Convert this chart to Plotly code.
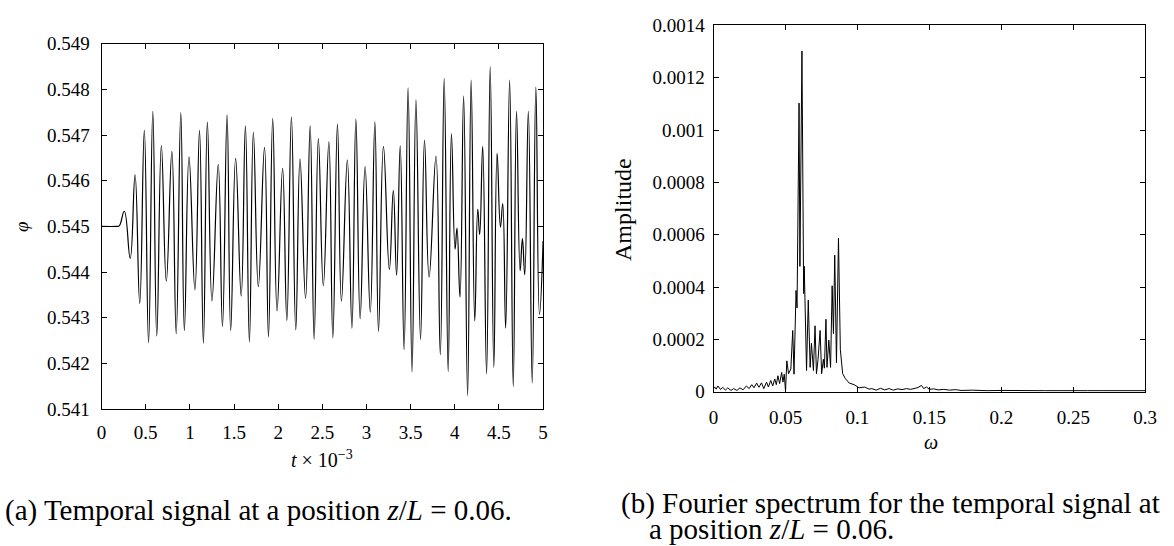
import plotly.graph_objects as go

# ---------------- data: temporal signal (extrema) ----------------
t_vals = [0.0, 0.17, 0.20, 0.257, 0.324, 0.379, 0.432, 0.484, 0.532, 0.580, 0.625, 0.677, 0.733,
          0.796, 0.845, 0.897, 0.9375, 0.990, 1.057, 1.109, 1.153, 1.198, 1.250, 1.321, 1.369,
          1.421, 1.462, 1.518, 1.581, 1.629, 1.674, 1.719, 1.775, 1.845, 1.890, 1.938, 1.987,
          2.050, 2.098, 2.150, 2.199, 2.247, 2.310, 2.362, 2.407, 2.455, 2.511, 2.574, 2.619,
          2.671, 2.716, 2.783, 2.835, 2.880, 2.928, 2.984, 3.043, 3.095, 3.136, 3.192, 3.259,
          3.304, 3.341, 3.382, 3.426, 3.471, 3.516, 3.560, 3.612, 3.657, 3.709, 3.787, 3.836,
          3.880, 3.925, 3.962, 4.003, 4.025, 4.059, 4.100, 4.145, 4.185, 4.226, 4.260, 4.282,
          4.316, 4.360, 4.401, 4.442, 4.479, 4.517, 4.543, 4.576, 4.621, 4.662, 4.699, 4.740,
          4.766, 4.792, 4.833, 4.877, 4.918, 4.959, 5.0]
phi_vals = [0.545, 0.545, 0.54501, 0.54533, 0.54430, 0.54613, 0.54331, 0.54710, 0.54245, 0.54752,
            0.54260, 0.54677, 0.54380, 0.54664, 0.54265, 0.54749, 0.54272, 0.54652, 0.54361,
            0.54710, 0.54244, 0.54728, 0.54337, 0.54635, 0.54281, 0.54744, 0.54272, 0.54649,
            0.54347, 0.54720, 0.54247, 0.54706, 0.54368, 0.54673, 0.54258, 0.54736, 0.54315,
            0.54627, 0.54294, 0.54740, 0.54273, 0.54647, 0.54342, 0.54720, 0.54253, 0.54692,
            0.54370, 0.54685, 0.54256, 0.54724, 0.54336, 0.54645, 0.54277, 0.54735, 0.54298,
            0.54631, 0.54312, 0.54729, 0.54270, 0.54675, 0.54406, 0.54579, 0.54393, 0.54677,
            0.54230, 0.54803, 0.54181, 0.54777, 0.54252, 0.54689, 0.54389, 0.54654, 0.54219,
            0.54824, 0.54182, 0.54703, 0.54450, 0.54496, 0.54345, 0.54785, 0.54129, 0.54820,
            0.54293, 0.54538, 0.54482, 0.54675, 0.54177, 0.54850, 0.54191, 0.54660, 0.54498,
            0.54550, 0.54277, 0.54820, 0.54149, 0.54752, 0.54403, 0.54473, 0.54394, 0.54752,
            0.54157, 0.54805, 0.54307, 0.54468]

# ---------------- data: Fourier spectrum ----------------
omega_vals = [0.0, 0.0007, 0.0018, 0.0030, 0.0048, 0.0064, 0.0082, 0.0098, 0.0121, 0.0139, 0.0162,
              0.0183, 0.0205, 0.0228, 0.0247, 0.0265, 0.0281, 0.0299, 0.0315, 0.0333, 0.0349,
              0.0368, 0.0381, 0.0397, 0.0411, 0.0425, 0.0436, 0.0447, 0.0459, 0.0473, 0.0482,
              0.0491, 0.0500, 0.0509, 0.0521, 0.0537, 0.0550, 0.0559, 0.0573, 0.0580, 0.0594,
              0.0600, 0.0614, 0.0626, 0.0630, 0.0646, 0.0658, 0.0671, 0.0680, 0.0694, 0.0705,
              0.0715, 0.0726, 0.0740, 0.0751, 0.0763, 0.0770, 0.0781, 0.0788, 0.0801, 0.0813,
              0.0824, 0.0833, 0.0842, 0.0854, 0.0868, 0.0881, 0.0897, 0.0916, 0.0943, 0.0977,
              0.1011, 0.1050, 0.1080, 0.110, 0.113, 0.116, 0.119, 0.122, 0.125, 0.128, 0.131,
              0.134, 0.137, 0.140, 0.142, 0.1445, 0.146, 0.148, 0.150, 0.153, 0.156, 0.160,
              0.164, 0.168, 0.172, 0.18, 0.19, 0.20, 0.21, 0.22, 0.23, 0.24, 0.25, 0.26, 0.27,
              0.28, 0.29, 0.30]
amp_vals = [0.000012, 0.0000184, 0.0000098, 0.000022, 0.0000086, 0.000017, 0.000006, 0.0000147,
            0.000005, 0.000012, 0.000005, 0.0000147, 0.0000074, 0.000022, 0.000012, 0.000027,
            0.000015, 0.000033, 0.000017, 0.000034, 0.000012, 0.0000368, 0.000018, 0.000043,
            0.000022, 0.000049, 0.000027, 0.000061, 0.000031, 0.0000736, 0.0000368, 0.000067,
            0.0000025, 0.000118, 0.000069, 0.000087, 0.000234, 0.000067, 0.000387, 0.00032,
            0.001103, 0.000479, 0.001302, 0.000375, 0.000479, 0.000081, 0.00035, 0.000093,
            0.000185, 0.000081, 0.000252, 0.000069, 0.000124, 0.000234, 0.000069, 0.000124,
            0.00009, 0.000277, 0.000093, 0.000197, 0.000093, 0.000405, 0.000222, 0.000522,
            0.000111, 0.000587, 0.00016, 0.000069, 0.00005, 0.000033, 0.000027, 0.000015,
            0.000018, 0.00001, 0.000012, 0.000006, 0.000013, 0.000007, 0.000012, 0.000006,
            0.000011, 0.000008, 0.000012, 0.000009, 0.000013, 0.000016, 0.000024, 0.000012,
            0.000018, 0.000009, 0.000011, 0.000007, 0.000009, 0.000006, 0.000008, 0.000005,
            0.000006, 0.000004, 0.000005, 0.000004, 0.000005, 0.000004, 0.000004, 0.000005,
            0.000004, 0.000004, 0.000004, 0.000004, 0.000004]

# ---------------- tick labels ----------------
t_ticks = [0, 0.5, 1, 1.5, 2, 2.5, 3, 3.5, 4, 4.5, 5]
t_ticktext = ["0", "0.5", "1", "1.5", "2", "2.5", "3", "3.5", "4", "4.5", "5"]
phi_ticks = [0.541, 0.542, 0.543, 0.544, 0.545, 0.546, 0.547, 0.548, 0.549]
phi_ticktext = ["0.541", "0.542", "0.543", "0.544", "0.545", "0.546", "0.547", "0.548", "0.549"]
om_ticks = [0, 0.05, 0.1, 0.15, 0.2, 0.25, 0.3]
om_ticktext = ["0", "0.05", "0.1", "0.15", "0.2", "0.25", "0.3"]
amp_ticks = [0, 0.0002, 0.0004, 0.0006, 0.0008, 0.001, 0.0012, 0.0014]
amp_ticktext = ["0", "0.0002", "0.0004", "0.0006", "0.0008", "0.001", "0.0012", "0.0014"]

W, H = 1174, 546
FONT = "Liberation Serif, serif"

fig = go.Figure()
fig.add_trace(go.Scatter(x=t_vals, y=phi_vals, mode="lines",
                         line=dict(color="black", width=1.2, shape="spline", smoothing=1.3),
                         xaxis="x", yaxis="y", showlegend=False, hoverinfo="skip"))
fig.add_trace(go.Scatter(x=omega_vals, y=amp_vals, mode="lines",
                         line=dict(color="black", width=1.0),
                         xaxis="x2", yaxis="y2", showlegend=False, hoverinfo="skip"))

def px_x(p):
    return p / W

def px_y(p):
    return 1 - p / H

def axis(**kw):
    d = dict(showline=True, linecolor="black", linewidth=1, mirror="ticks",
             ticks="inside", ticklen=5, tickwidth=1, tickcolor="black",
             showgrid=False, zeroline=False, tickmode="array",
             tickfont=dict(family=FONT, size=19, color="black"))
    d.update(kw)
    return d

fig.update_layout(
    width=W, height=H, margin=dict(l=0, r=0, t=0, b=0),
    paper_bgcolor="white", plot_bgcolor="white",
    font=dict(family=FONT, color="black", size=19),
    xaxis=axis(domain=[px_x(98), px_x(546)], range=[0, 5], anchor="y",
               tickvals=t_ticks, ticktext=t_ticktext, ticklabelstandoff=6),
    yaxis=axis(domain=[px_y(415), px_y(35)], range=[0.541, 0.549], anchor="x",
               tickvals=phi_ticks, ticktext=phi_ticktext, ticklabelstandoff=7),
    xaxis2=axis(domain=[px_x(719), px_x(1157)], range=[0, 0.3], anchor="y2",
                tickvals=om_ticks, ticktext=om_ticktext, ticklabelstandoff=8),
    yaxis2=axis(domain=[px_y(397), px_y(16)], range=[0, 0.0014], anchor="x2",
                tickvals=amp_ticks, ticktext=amp_ticktext, ticklabelstandoff=4),
)

ann = [
    dict(text="<i>φ</i>", x=px_x(17), y=px_y(225), textangle=-90, font=dict(size=19)),
    dict(text="<i>t</i> × 10<sup>−3</sup>", x=px_x(322), y=px_y(467), font=dict(size=20)),
    dict(text="Amplitude", x=px_x(627), y=px_y(207), textangle=-90, font=dict(size=24)),
    dict(text="<i>ω</i>", x=px_x(940), y=px_y(449), font=dict(size=20)),
    dict(text="(a) Temporal signal at a position <i>z</i>/<i>L</i> = 0.06.", x=px_x(-2), y=px_y(521),
         xanchor="left", font=dict(size=29)),
    dict(text="(b) Fourier spectrum for the temporal signal at", x=px_x(623), y=px_y(513),
         xanchor="left", font=dict(size=29)),
    dict(text="a position <i>z</i>/<i>L</i> = 0.06.", x=px_x(651), y=px_y(540),
         xanchor="left", font=dict(size=29)),
]
for a in ann:
    a.setdefault("xanchor", "center")
    a.update(xref="paper", yref="paper", yanchor="middle", showarrow=False)
    a["font"] = dict(family=FONT, color="black", **a["font"])
fig.update_layout(annotations=ann)

fig.write_html("out.html")
